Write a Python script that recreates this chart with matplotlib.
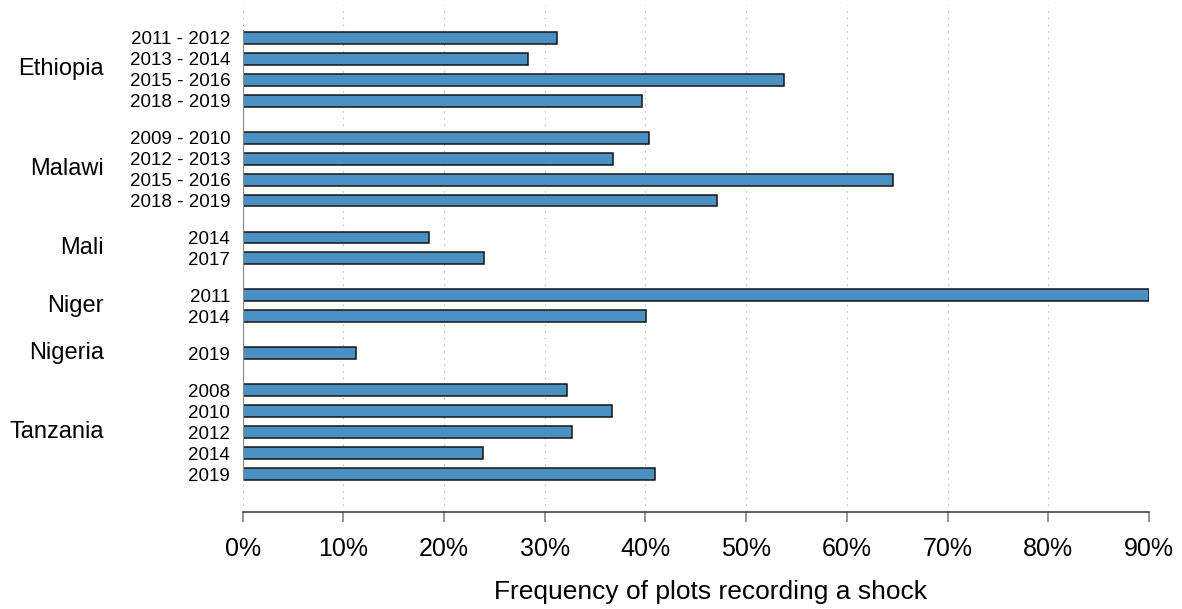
import numpy as np
import matplotlib
matplotlib.use("Agg")
import matplotlib.pyplot as plt
from matplotlib.ticker import PercentFormatter
import matplotlib.transforms as mtransforms

plt.rcParams['font.family'] = ['Liberation Sans', 'DejaVu Sans']

# shock frequency by country and survey round
countries = ["Ethiopia", "Malawi", "Mali", "Niger", "Nigeria", "Tanzania"]
rounds = [
    ["2011 - 2012", "2013 - 2014", "2015 - 2016", "2018 - 2019"],
    ["2009 - 2010", "2012 - 2013", "2015 - 2016", "2018 - 2019"],
    ["2014", "2017"],
    ["2011", "2014"],
    ["2019"],
    ["2008", "2010", "2012", "2014", "2019"],
]
shock_freq = [
    [0.312, 0.283, 0.538, 0.397],
    [0.404, 0.368, 0.646, 0.471],
    [0.185, 0.240],
    [0.900, 0.401],
    [0.113],
    [0.322, 0.367, 0.327, 0.239, 0.409],
]

GROUP_GAP = 0.77
BAR_H = 0.57
BAR_COLOR = "#4a90c3"

# stack the bars top to bottom, leaving a gap between countries
ypos, labels, values, centers = [], [], [], []
y = 0.0
for g, (yrs, vals) in enumerate(zip(rounds, shock_freq)):
    if g > 0:
        y += GROUP_GAP
    start = y
    for yr, v in zip(yrs, vals):
        ypos.append(y)
        labels.append(yr)
        values.append(v)
        y += 1
    centers.append((start + y - 1) / 2)
ypos = np.array(ypos)

fig = plt.figure(figsize=(11.82, 6.09), dpi=100)
ax = fig.add_axes([0.2053, 0.159, 0.7667, 0.833])

ax.barh(ypos, values, height=BAR_H, color=BAR_COLOR, edgecolor="#151515",
        linewidth=1.1, zorder=3)

# solid baseline at 0 spanning the bars
ax.plot([0, 0], [ypos[0] - BAR_H / 2 - 0.1, ypos[-1] + BAR_H / 2 + 0.05],
        color="#8a8a8a", lw=1.6, zorder=4, solid_capstyle="butt")

ax.set_xlim(0, 0.9)
ax.set_ylim(ypos[-1] + 1.82, ypos[0] - 1.58)

ax.set_xticks(np.arange(0, 0.91, 0.1))
ax.xaxis.set_major_formatter(PercentFormatter(1.0, decimals=0))
ax.grid(axis="x", color="#a8a8a8", lw=0.8, linestyle=(0, (1, 5)), zorder=0)
ax.tick_params(axis="x", length=7, width=1.1, color="#777777",
               labelsize=18, pad=11)

ax.set_yticks(ypos)
ax.set_yticklabels(labels)
ax.tick_params(axis="y", length=0, labelsize=13.5, pad=9)

for s in ["top", "right", "left"]:
    ax.spines[s].set_visible(False)
ax.spines["bottom"].set_linewidth(1.1)
ax.spines["bottom"].set_color("#333333")

# country names to the left of the round labels
trans = mtransforms.blended_transform_factory(ax.transAxes, ax.transData)
for name, c in zip(countries, centers):
    ax.text(-0.153, c, name, transform=trans, ha="right", va="center",
            fontsize=17)

ax.set_xlabel("Frequency of plots recording a shock", fontsize=19)
ax.xaxis.set_label_coords(0.516, -0.133)

fig.savefig("out.png", dpi=100)
